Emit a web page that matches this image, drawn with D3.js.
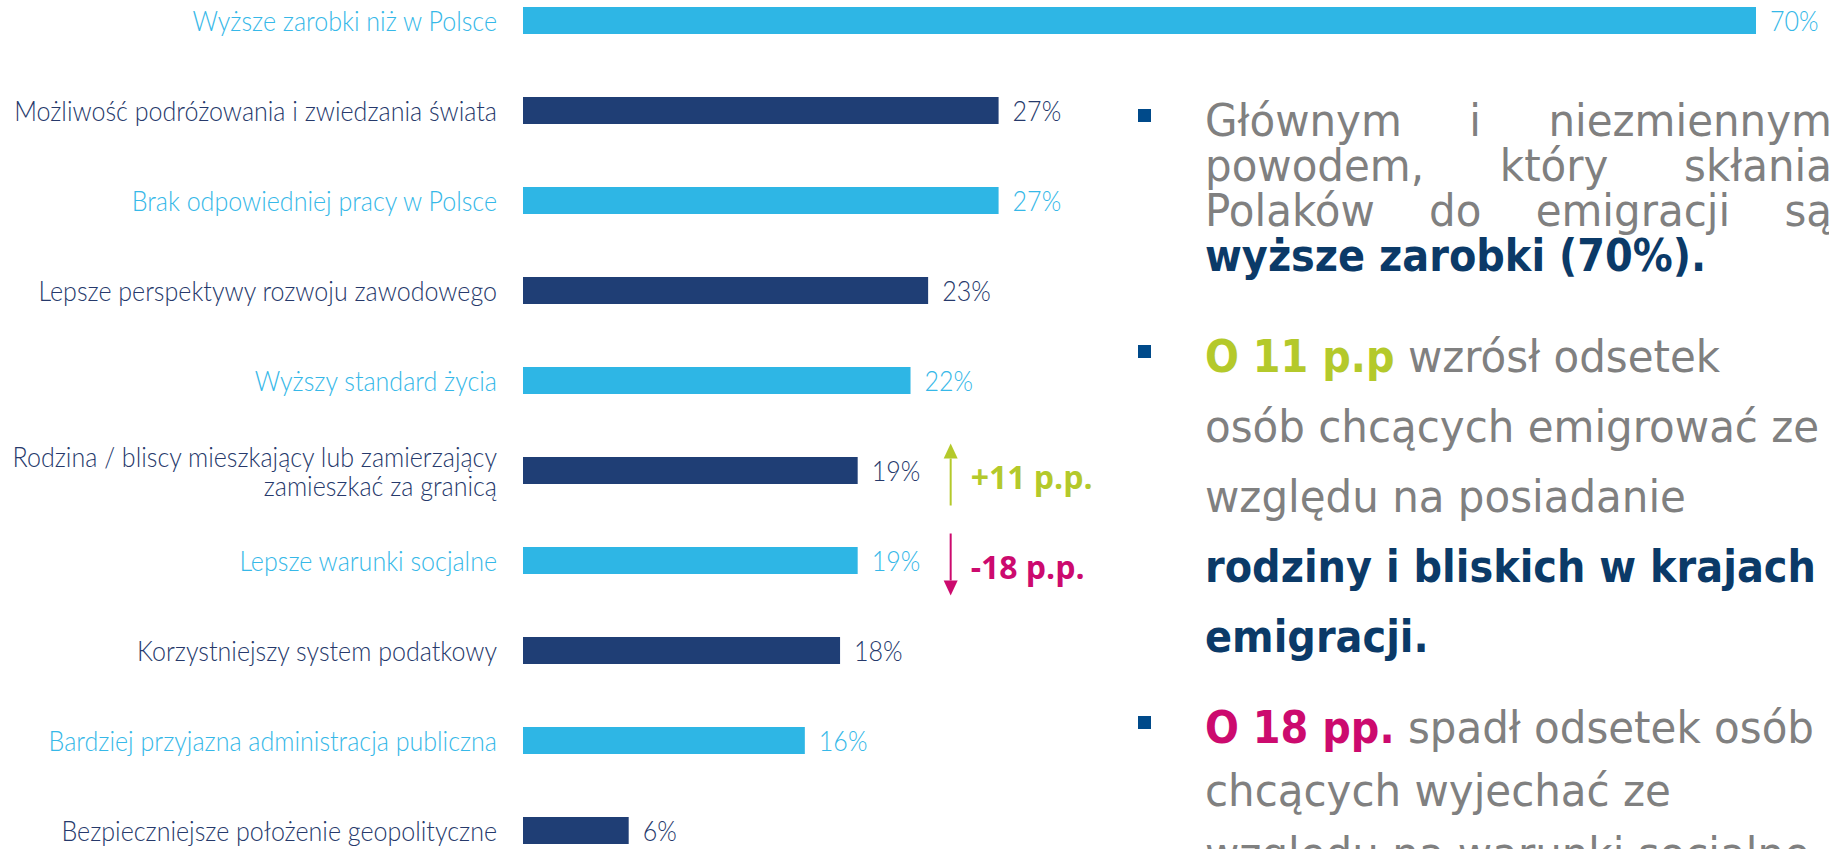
<!DOCTYPE html>
<html>
<head>
<meta charset="utf-8">
<script src="https://cdn.jsdelivr.net/npm/d3@7"></script>
<style>
  body { margin: 0; background: #ffffff; }
  svg { display: block; }
  text { white-space: pre; }
</style>
</head>
<body>
<svg class="chart"></svg>
<script>
// Reasons for emigration - horizontal bars, with a text panel on the right.

var categories = [
    "Wyższe zarobki niż w Polsce",
    "Możliwość podróżowania i zwiedzania świata",
    "Brak odpowiedniej pracy w Polsce",
    "Lepsze perspektywy rozwoju zawodowego",
    "Wyższy standard życia",
    "Rodzina / bliscy mieszkający lub zamierzający\nzamieszkać za granicą",
    "Lepsze warunki socjalne",
    "Korzystniejszy system podatkowy",
    "Bardziej przyjazna administracja publiczna",
    "Bezpieczniejsze położenie geopolityczne"
];
var values = [70, 27, 27, 23, 22, 19, 19, 18, 16, 6];
var shades = ["light", "dark", "light", "dark", "light", "dark", "light", "dark", "light", "dark"];

// change vs previous wave, shown next to two rows
var changeRows = [5, 6];
var changeLabels = ["+11 p.p.", "-18 p.p."];
var changeDirs = ["up", "down"];

// right-hand notes: each line is a list of [style, text] runs
var notes = [
    { justify: true, lines: [
        [["reg", "Głównym i niezmiennym"]],
        [["reg", "powodem, który skłania"]],
        [["reg", "Polaków do emigracji są"]],
        [["navy", "wyższe zarobki (70%)."]]
    ]},
    { justify: false, lines: [
        [["green", "O 11 p.p"], ["reg", " wzrósł odsetek"]],
        [["reg", "osób chcących emigrować ze"]],
        [["reg", "względu na posiadanie"]],
        [["navy", "rodziny i bliskich w krajach"]],
        [["navy", "emigracji."]]
    ]},
    { justify: false, lines: [
        [["pink", "O 18 pp."], ["reg", " spadł odsetek osób"]],
        [["reg", "chcących wyjechać ze"]],
        [["reg", "względu na warunki socjalne"]]
    ]}
];

window.onload = function () {

    var width = 1829, height = 849;

    var svg = d3.select("svg.chart")
        .attr("width", width)
        .attr("height", height);

    var x = d3.scaleLinear().domain([0, 70]).range([523, 1756]);
    var y = d3.scaleBand()
        .domain(d3.range(categories.length))
        .range([-24.5, 875.5])
        .paddingInner(0.7)
        .paddingOuter(0.35);

    var barColor = d3.scaleOrdinal().domain(["light", "dark"]).range(["#2eb6e5", "#1f3e75"]);
    var textColor = d3.scaleOrdinal().domain(["light", "dark"]).range(["#36b8e8", "#26396b"]);
    var changeColor = d3.scaleOrdinal().domain(["up", "down"]).range(["#b4c92b", "#cc0a6e"]);

    var labelFont = "Lato, 'Open Sans', sans-serif";
    var labelSize = 28;
    var labelWeight = 300;

    function measure(str, family, size, weight) { // width of a string in its own units
        var t = svg.append("text")
            .attr("font-family", family)
            .attr("font-size", size)
            .attr("font-weight", weight)
            .text(str);
        var w = t.node().getComputedTextLength();
        t.remove();
        return w;
    }

    // the source picture is squeezed horizontally, so text gets a horizontal scale
    var labelSX = 483 / measure(categories[1], labelFont, labelSize, labelWeight);

    // bars
    svg.append("g").selectAll("rect")
        .data(values)
        .join("rect")
        .attr("x", x(0))
        .attr("y", (d, i) => y(i))
        .attr("width", d => x(d) - x(0))
        .attr("height", y.bandwidth())
        .attr("fill", (d, i) => barColor(shades[i]));

    // category labels
    categories.forEach(function (cat, i) {
        var cy = y(i) + y.bandwidth() / 2;
        var lines = cat.split("\n");
        var offs = lines.length === 1 ? [10] : [-4, 25];
        var g = svg.append("g")
            .attr("transform", "translate(497," + cy + ") scale(" + labelSX + ",1)");
        lines.forEach(function (line, k) {
            g.append("text")
                .attr("y", offs[k])
                .attr("text-anchor", "end")
                .attr("font-family", labelFont)
                .attr("font-size", labelSize)
                .attr("font-weight", labelWeight)
                .attr("fill", textColor(shades[i]))
                .text(line);
        });
    });

    // value labels
    values.forEach(function (v, i) {
        var cy = y(i) + y.bandwidth() / 2;
        svg.append("text")
            .attr("transform", "translate(" + (x(v) + 14) + "," + (cy + 10) + ") scale(" + labelSX + ",1)")
            .attr("font-family", labelFont)
            .attr("font-size", labelSize)
            .attr("font-weight", labelWeight)
            .attr("fill", textColor(shades[i]))
            .text(v + "%");
    });

    // change arrows
    changeRows.forEach(function (row, k) {
        var cy = y(row) + y.bandwidth() / 2;
        var ax = x(values[row]) + 93;
        var top = cy + 4 - 31, bottom = cy + 4 + 31;
        var col = changeColor(changeDirs[k]);
        var up = changeDirs[k] === "up";
        var tip = up ? top : bottom;
        var base = up ? tip + 15 : tip - 15;
        svg.append("line")
            .attr("x1", ax).attr("x2", ax)
            .attr("y1", up ? base : top)
            .attr("y2", up ? bottom : base)
            .attr("stroke", col)
            .attr("stroke-width", 2);
        svg.append("path")
            .attr("d", "M" + (ax - 7) + "," + base + "L" + ax + "," + tip + "L" + (ax + 7) + "," + base + "Z")
            .attr("fill", col);
        svg.append("text")
            .attr("x", ax + 20)
            .attr("y", cy + 18)
            .attr("font-family", "'Open Sans', sans-serif")
            .attr("font-weight", 700)
            .attr("font-size", 32)
            .attr("fill", col)
            .text(changeLabels[k]);
    });

    // notes panel
    var noteFont = "'DejaVu Sans', Verdana, sans-serif";
    var noteSize = 44;
    var styles = {
        reg: { weight: 400, fill: "#808080" },
        navy: { weight: 700, fill: "#0b3a68" },
        green: { weight: 700, fill: "#b4c92b" },
        pink: { weight: 700, fill: "#cc0a6e" }
    };
    var regSX = 481 / measure("względu na posiadanie", noteFont, noteSize, 400);
    var boldSX = 611 / measure("rodziny i bliskich w krajach", noteFont, noteSize, 700);
    function sxOf(s) { return styles[s].weight === 700 ? boldSX : regSX; }

    var noteLeft = 1205, noteRight = 1832;
    var firstBaselines = [136, 372, 743];
    var lineSteps = [45, 70, 63];

    function putRun(px, py, style, str) {
        var st = styles[style];
        var t = svg.append("text")
            .attr("transform", "translate(" + px + "," + py + ") scale(" + sxOf(style) + ",1)")
            .attr("font-family", noteFont)
            .attr("font-size", noteSize)
            .attr("font-weight", st.weight)
            .attr("fill", st.fill)
            .text(str);
        return t.node().getComputedTextLength() * sxOf(style);
    }

    notes.forEach(function (para, p) {
        var b0 = firstBaselines[p];
        svg.append("rect")
            .attr("x", 1138).attr("y", b0 - 27)
            .attr("width", 13).attr("height", 13)
            .attr("fill", "#004a8a");
        para.lines.forEach(function (runs, li) {
            var py = b0 + li * lineSteps[p];
            var last = li === para.lines.length - 1;
            if (para.justify && !last) {
                var style = runs[0][0];
                var words = runs[0][1].split(" ");
                var ws = words.map(w => measure(w, noteFont, noteSize, styles[style].weight) * sxOf(style));
                var gap = (noteRight - noteLeft - d3.sum(ws)) / (words.length - 1);
                var cx = noteLeft;
                words.forEach(function (w, k) {
                    putRun(cx, py, style, w);
                    cx += ws[k] + gap;
                });
            } else {
                var cx2 = noteLeft;
                runs.forEach(function (r) {
                    cx2 += putRun(cx2, py, r[0], r[1]);
                });
            }
        });
    });
};
</script>
</body>
</html>
